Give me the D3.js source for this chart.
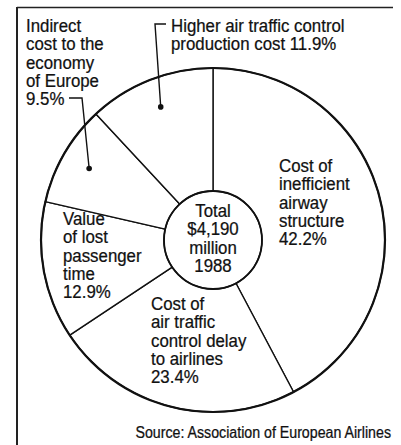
<!DOCTYPE html>
<html>
<head>
<meta charset="utf-8">
<script src="https://cdn.jsdelivr.net/npm/d3@7"></script>
<style>
  body { margin: 0; background: #fff; }
  text { font-family: "Liberation Sans", Arial, sans-serif; fill: #111; stroke: #111; stroke-width: 0.25; }
</style>
</head>
<body>
<div id="chart"></div>
<script>
// slices, clockwise from 12 o'clock
var categories = ["Cost of inefficient airway structure",
                  "Cost of air traffic control delay to airlines",
                  "Value of lost passenger time",
                  "Indirect cost to the economy of Europe",
                  "Higher air traffic control production cost"];
var values = [42.2, 23.4, 12.9, 9.5, 11.9];
var labelLines = [
    ["Cost of", "inefficient", "airway", "structure", "42.2%"],
    ["Cost of", "air traffic", "control delay", "to airlines", "23.4%"],
    ["Value", "of lost", "passenger", "time", "12.9%"],
    ["Indirect", "cost to the", "economy", "of Europe", "9.5%"],
    ["Higher air traffic control", "production cost 11.9%"]
];
var centerLines = ["Total", "$4,190", "million", "1988"];
var sourceText = "Source: Association of European Airlines";

var width = 401, height = 445;
var cx = 213, cy = 240, outerR = 172, innerR = 49, dotR = 143;
var lineH = 18.3;
var squeeze = 0.91;   // the original face is a condensed grotesque

// where each label block sits, and its leader elbow (if any)
var layout = [
    {x: 279, y: 172},
    {x: 151, y: 310},
    {x: 63, y: 225},
    {x: 26, y: 32, elbow: [[82, 98], [69, 98]]},
    {x: 171, y: 32, elbow: [[155, 24], [166, 24]]}
];

var svg = d3.select("#chart").append("svg")
    .attr("width", width)
    .attr("height", height);

// frame (only top and left edges survive in the scan)
svg.append("line").attr("x1", 17).attr("y1", 7.5).attr("x2", 393).attr("y2", 7.5)
    .attr("stroke", "#222").attr("stroke-width", 1.5);
svg.append("line").attr("x1", 17).attr("y1", 7).attr("x2", 17).attr("y2", height)
    .attr("stroke", "#222").attr("stroke-width", 2);

var pie = d3.pie().sort(null).value(function (d) { return d; });
var arcs = pie(values);

var arc = d3.arc().innerRadius(innerR).outerRadius(outerR);
var dotArc = d3.arc().innerRadius(dotR).outerRadius(dotR);

var g = svg.append("g").attr("transform", "translate(" + cx + "," + cy + ")");

g.selectAll(".slice")
    .data(arcs)
    .enter().append("path")
    .attr("class", "slice")
    .attr("d", arc)
    .attr("fill", "#fff")
    .attr("stroke", "#111")
    .attr("stroke-width", 1.4)
    .attr("stroke-linejoin", "round");

g.append("circle").attr("r", outerR).attr("fill", "none")
    .attr("stroke", "#111").attr("stroke-width", 2.2);
g.append("circle").attr("r", innerR).attr("fill", "none")
    .attr("stroke", "#111").attr("stroke-width", 1.8);

function textBlock(parent, x, y, lines, size, anchor) {
    var t = parent.append("text")
        .attr("transform", "translate(" + x + "," + y + ") scale(" + squeeze + ",1)")
        .attr("text-anchor", anchor || "start")
        .style("font-size", size + "px");
    t.selectAll("tspan")
        .data(lines)
        .enter().append("tspan")
        .attr("x", 0)
        .attr("dy", function (d, i) { return i === 0 ? 0 : lineH; })
        .text(function (d) { return d; });
    return t;
}

// center text
textBlock(g, 0, -23, centerLines, 18.5, "middle");

// labels
labelLines.forEach(function (lines, k) {
    var pos = layout[k];
    textBlock(svg, pos.x, pos.y, lines, 18.5);

    if (pos.elbow) {
        var c = dotArc.centroid(arcs[k]);
        var p = [[cx + c[0], cy + c[1]]].concat(pos.elbow);
        svg.append("path")
            .attr("d", d3.line()(p))
            .attr("fill", "none")
            .attr("stroke", "#111")
            .attr("stroke-width", 1.4);
        svg.append("circle")
            .attr("cx", cx + c[0]).attr("cy", cy + c[1])
            .attr("r", 2.8).attr("fill", "#111");
    }
});

svg.append("text")
    .attr("transform", "translate(391,438) scale(" + squeeze + ",1)")
    .attr("text-anchor", "end")
    .style("font-size", "15.6px")
    .text(sourceText);
</script>
</body>
</html>
